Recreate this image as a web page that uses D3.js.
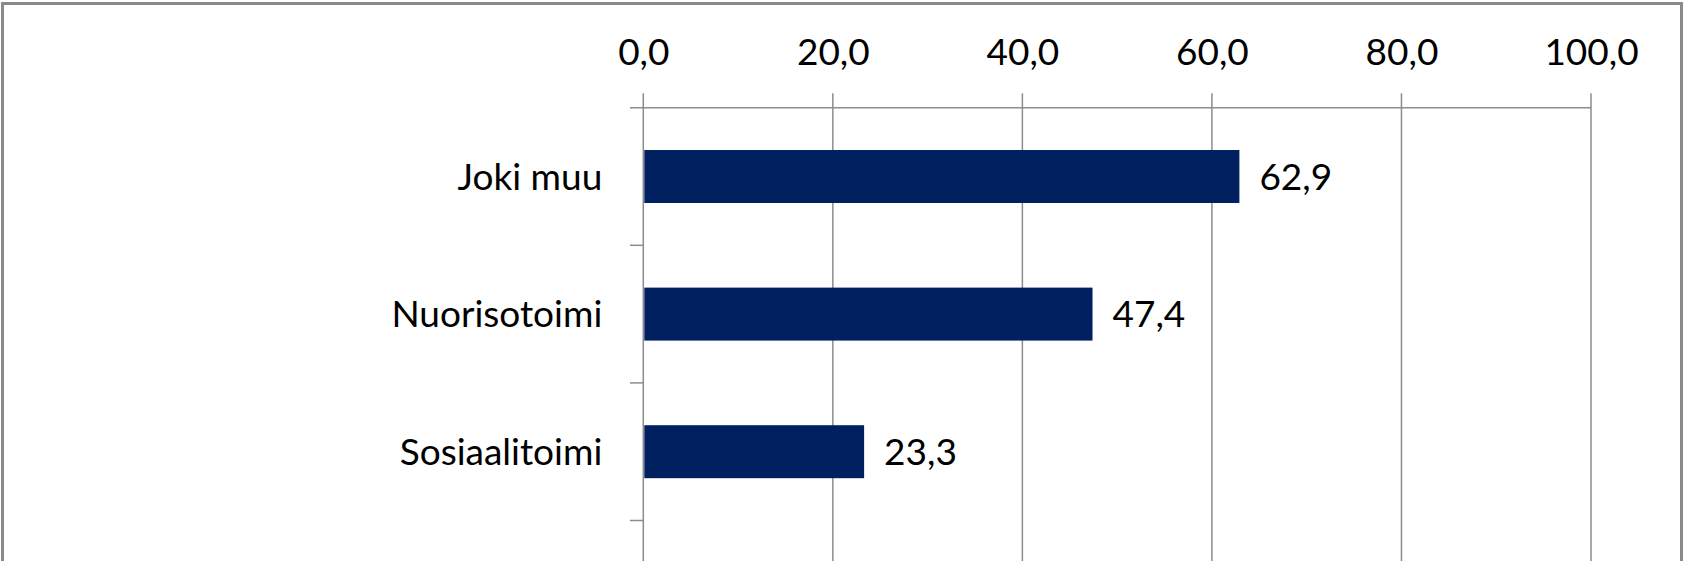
<!DOCTYPE html>
<html><head><meta charset="utf-8">
<script src="https://cdn.jsdelivr.net/npm/d3@7"></script>
<style>
html,body{margin:0;padding:0;background:#fff;overflow:hidden}
svg{display:block}
text{font-family:Lato,"Liberation Sans",sans-serif;fill:#000}
</style></head>
<body>
<svg id="chart" width="1685" height="561"></svg>
<script>
const categories = ["Joki muu", "Nuorisotoimi", "Sosiaalitoimi"];
const values = [62.9, 47.4, 23.3];
const xTicks = [0, 20, 40, 60, 80, 100];
const xTickLabels = ["0,0", "20,0", "40,0", "60,0", "80,0", "100,0"];

const W = 1685, H = 561;
const svg = d3.select("#chart");
const fontSize = 37;

// outer chart border
svg.append("rect").attr("x", 2.5).attr("y", 3.5).attr("width", W - 6).attr("height", H + 20)
  .attr("fill", "#fff").attr("stroke", "#8a8a8a").attr("stroke-width", 3);

const x = d3.scaleLinear().domain([0, 100]).range([643.3, 1591]);
const y = d3.scaleBand().domain(categories).range([107.7, 520.5]).padding(0);
const gridBottom = H + 10;
const gridColor = "#8c8c8c";

// vertical gridlines (extend above axis as tick marks)
svg.append("g").selectAll("line").data(xTicks).join("line")
  .attr("x1", d => x(d)).attr("x2", d => x(d))
  .attr("y1", 93.3).attr("y2", gridBottom)
  .attr("stroke", gridColor).attr("stroke-width", 1.5);

// top axis using d3.axisTop
const xAxis = d3.axisTop(x).tickValues(xTicks)
  .tickFormat((d, i) => xTickLabels[i]).tickSize(0).tickPadding(0);
const gx = svg.append("g").attr("transform", `translate(0,${y.range()[0]})`).call(xAxis);
gx.select(".domain").remove();
gx.selectAll("text").attr("font-size", fontSize).attr("font-family", "Lato,'Liberation Sans',sans-serif")
  .attr("fill", "#000").attr("y", -42.7).attr("dy", 0);
// axis line
svg.append("line").attr("x1", 630).attr("x2", x(100))
  .attr("y1", y.range()[0]).attr("y2", y.range()[0])
  .attr("stroke", gridColor).attr("stroke-width", 1.5);

// category axis
const bounds = categories.map(c => y(c) + y.bandwidth());
svg.append("g").selectAll("line").data(bounds).join("line")
  .attr("x1", 630).attr("x2", x(0))
  .attr("y1", d => d).attr("y2", d => d)
  .attr("stroke", gridColor).attr("stroke-width", 1.5);

svg.append("g").selectAll("text").data(categories).join("text")
  .attr("x", x(0) - 41).attr("y", d => y(d) + y.bandwidth() / 2)
  .attr("dy", "0.36em").attr("text-anchor", "end").attr("font-size", fontSize)
  .text(d => d);

// bars
const barH = y.bandwidth() * 0.385;
svg.append("g").selectAll("rect").data(values).join("rect")
  .attr("x", x(0) + 1).attr("y", (d, i) => y(categories[i]) + (y.bandwidth() - barH) / 2)
  .attr("width", d => x(d) - x(0) - 1).attr("height", barH)
  .attr("fill", "#002060");

// value labels
const fmt = v => v.toFixed(1).replace(".", ",");
svg.append("g").selectAll("text").data(values).join("text")
  .attr("x", d => x(d) + 20).attr("y", (d, i) => y(categories[i]) + y.bandwidth() / 2)
  .attr("dy", "0.36em").attr("font-size", fontSize)
  .text(d => fmt(d));
</script>
</body></html>
